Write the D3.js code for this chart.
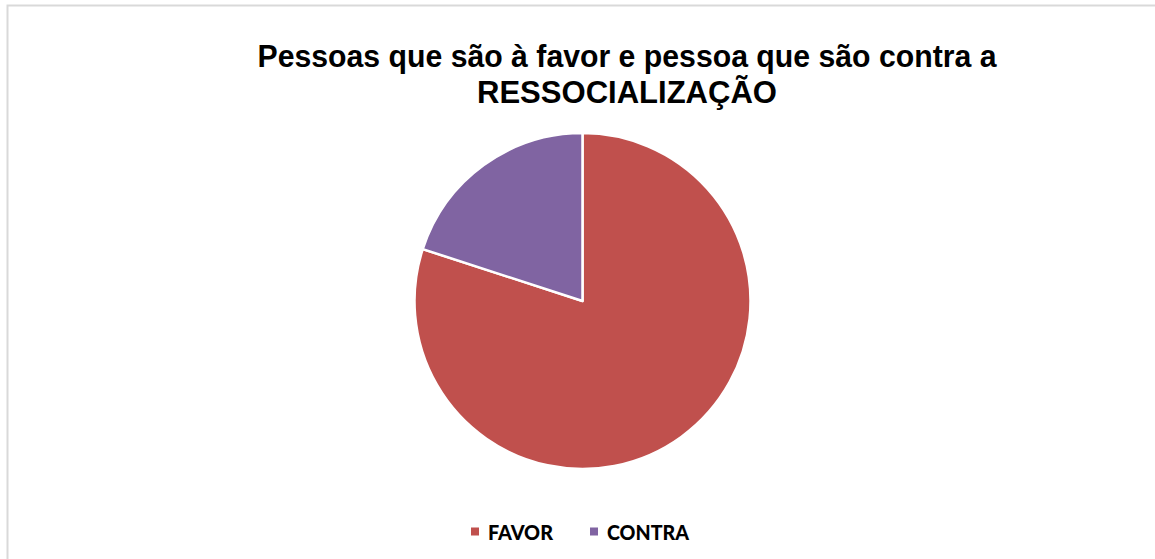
<!DOCTYPE html>
<html><head><meta charset="utf-8">
<script src="https://cdn.jsdelivr.net/npm/d3@7"></script>
<style>body{margin:0;background:#fff}svg{display:block}</style>
</head><body>
<svg id="c" width="1155" height="559"></svg>
<script>
const categories = ["FAVOR", "CONTRA"];
const values = [80, 20];
const colors = ["#C0504D", "#8064A2"];
const titleLines = ["Pessoas que são à favor e pessoa que são contra a", "RESSOCIALIZAÇÃO"];

const svg = d3.select("#c");
svg.append("rect").attr("x", 7.5).attr("y", 5.5).attr("width", 1160).attr("height", 570)
  .attr("fill", "#fff").attr("stroke", "#d9d9d9").attr("stroke-width", 2);

const title = svg.append("g");
const tl = [{t: titleLines[0], y: 67, w: 739}, {t: titleLines[1], y: 103, w: 300}];
tl.forEach(d => {
  title.append("text").attr("x", 627).attr("y", d.y).attr("text-anchor", "middle")
    .attr("font-family", "Liberation Sans, Arial, sans-serif").attr("font-weight", "bold")
    .attr("font-size", 31.5).attr("textLength", d.w).attr("lengthAdjust", "spacingAndGlyphs")
    .attr("fill", "#000").text(d.t);
});

const data = categories.map((c, i) => ({c, v: values[i]}));
const pie = d3.pie().value(d => d.v).sort(null);
const arc = d3.arc().innerRadius(0).outerRadius(168);
const color = d3.scaleOrdinal().domain(categories).range(colors);
svg.append("g").attr("transform", "translate(582.5,301)")
  .selectAll("path").data(pie(data)).join("path")
  .attr("d", arc).attr("fill", d => color(d.data.c))
  .attr("stroke", "#fff").attr("stroke-width", 2.5).attr("stroke-linejoin", "round");

const leg = svg.append("g");
const lx = [471, 590];
const lw = [65, 82];
data.forEach((d, i) => {
  leg.append("rect").attr("x", lx[i]).attr("y", 527.5).attr("width", 8).attr("height", 8).attr("fill", color(d.c));
  leg.append("text").attr("x", lx[i] + 17).attr("y", 540)
    .attr("font-family", "Lato, 'Open Sans', sans-serif").attr("font-weight", "900")
    .attr("font-size", 21).attr("textLength", lw[i]).attr("lengthAdjust", "spacingAndGlyphs")
    .attr("fill", "#000").text(d.c);
});
</script>
</body></html>
